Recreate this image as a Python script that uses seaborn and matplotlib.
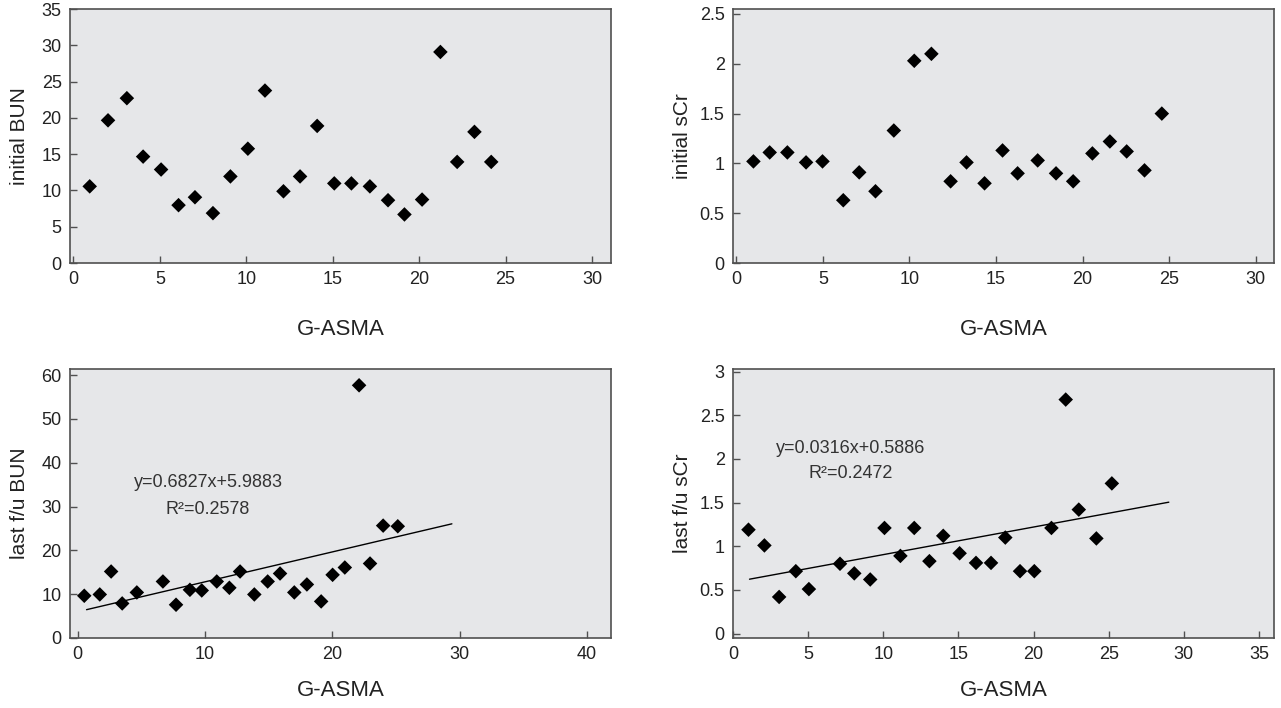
import numpy as np
import pandas as pd
import matplotlib
matplotlib.use("Agg")
import matplotlib.pyplot as plt
import seaborn as sns
from matplotlib.ticker import FuncFormatter

# ---------------- data ----------------
x_label = "G-ASMA"

init_bun_x = [0.94, 2.0, 3.09, 4.03, 5.07, 6.08, 7.03, 8.07, 9.08, 10.09, 11.08, 12.15,
              13.11, 14.1, 15.09, 16.08, 17.15, 18.2, 19.15, 20.17, 21.23, 22.2, 23.2, 24.17]
init_bun_y = [10.56, 19.66, 22.71, 14.66, 12.88, 7.97, 9.06, 6.87, 11.93, 15.75, 23.76, 9.88,
              11.93, 18.89, 10.97, 10.97, 10.56, 8.65, 6.69, 8.74, 29.08, 13.93, 18.07, 13.93]

init_scr_x = [0.99, 1.93, 2.95, 4.03, 4.98, 6.18, 7.10, 8.04, 9.10, 10.28, 11.27, 12.38,
              13.30, 14.34, 15.38, 16.25, 17.41, 18.47, 19.46, 20.57, 21.58, 22.55, 23.58, 24.58]
init_scr_y = [1.02, 1.11, 1.11, 1.01, 1.02, 0.63, 0.91, 0.72, 1.33, 2.03, 2.10, 0.82,
              1.01, 0.80, 1.13, 0.90, 1.03, 0.90, 0.82, 1.10, 1.22, 1.12, 0.93, 1.50]

last_bun_x = [0.52, 1.74, 2.63, 3.50, 4.65, 6.70, 7.73, 8.82, 9.75, 10.93, 11.92, 12.76,
              13.88, 14.93, 15.90, 17.02, 18.01, 19.13, 20.03, 20.99, 22.11, 22.97, 24.0, 25.15]
last_bun_y = [9.64, 9.94, 15.18, 7.89, 10.4, 12.9, 7.59, 11.0, 10.85, 12.9, 11.46, 15.18,
              9.94, 12.9, 14.72, 10.4, 12.22, 8.35, 14.42, 16.09, 57.68, 17.0, 25.65, 25.5]

last_scr_x = [1.03, 2.09, 3.07, 4.18, 5.05, 7.12, 8.07, 9.13, 10.08, 11.14, 12.06, 13.07,
              13.99, 15.08, 16.17, 17.17, 18.12, 19.1, 20.05, 21.19, 22.14, 23.01, 24.18, 25.21]
last_scr_y = [1.19, 1.01, 0.42, 0.715, 0.51, 0.80, 0.69, 0.62, 1.21, 0.89, 1.21, 0.83,
              1.12, 0.92, 0.81, 0.81, 1.10, 0.715, 0.715, 1.21, 2.68, 1.42, 1.09, 1.72]

bun_fit_slope, bun_fit_intercept = 0.6827, 5.9883
bun_fit_xrange = [0.7, 29.4]
bun_eq_lines = ["y=0.6827x+5.9883", "R\u00b2=0.2578"]

scr_fit_slope, scr_fit_intercept = 0.0316, 0.5886
scr_fit_xrange = [1.1, 29.0]
scr_eq_lines = ["y=0.0316x+0.5886", "R\u00b2=0.2472"]

y_labels = ["initial BUN", "initial sCr", "last f/u BUN", "last f/u sCr"]

# ---------------- style ----------------
sns.set_style("white")
plt.rcParams['font.family'] = ['Liberation Sans', 'DejaVu Sans']

W, H = 1281, 708
fig = plt.figure(figsize=(W / 100, H / 100), dpi=100)
fig.patch.set_facecolor("white")

FACE = "#e6e7e9"
SPINE = "#505050"
TEXT = "#222222"


def make_axes(l, t, r, b):
    return fig.add_axes([l / W, 1 - b / H, (r - l) / W, (b - t) / H])


panels = [
    dict(box=(70, 9, 611, 263), x=init_bun_x, y=init_bun_y, ylabel=y_labels[0],
         xlim=(-0.2, 31.1), ylim=(0, 35), xt=np.arange(0, 31, 5), yt=np.arange(0, 36, 5),
         fit=None, xlab_y=-0.22),
    dict(box=(733, 9, 1274, 263), x=init_scr_x, y=init_scr_y, ylabel=y_labels[1],
         xlim=(-0.19, 31.06), ylim=(0, 2.55), xt=np.arange(0, 31, 5), yt=np.arange(0, 2.51, 0.5),
         fit=None, xlab_y=-0.22),
    dict(box=(70, 369, 611, 638), x=last_bun_x, y=last_bun_y, ylabel=y_labels[2],
         xlim=(-0.6, 41.9), ylim=(0, 61.4), xt=np.arange(0, 41, 10), yt=np.arange(0, 61, 10),
         fit=(bun_fit_slope, bun_fit_intercept, bun_fit_xrange, bun_eq_lines,
              (10.24, 35.4), (10.24, 29.4)), xlab_y=-0.155),
    dict(box=(733, 369, 1274, 638), x=last_scr_x, y=last_scr_y, ylabel=y_labels[3],
         xlim=(0, 36.0), ylim=(-0.05, 3.03), xt=np.arange(0, 36, 5), yt=np.arange(0, 3.01, 0.5),
         fit=(scr_fit_slope, scr_fit_intercept, scr_fit_xrange, scr_eq_lines,
              (7.85, 2.12), (7.85, 1.835)), xlab_y=-0.155),
]

fmt = FuncFormatter(lambda v, p: f"{v:g}")

for p in panels:
    ax = make_axes(*p["box"])
    ax.set_facecolor(FACE)
    df = pd.DataFrame({"x": p["x"], "y": p["y"]})
    sns.scatterplot(data=df, x="x", y="y", ax=ax, marker="D", s=55, color="black",
                    edgecolor="none", linewidth=0, zorder=3)
    if p["fit"] is not None:
        slope, icpt, xr, eq, pos1, pos2 = p["fit"]
        xs = np.array(xr, dtype=float)
        sns.lineplot(x=xs, y=slope * xs + icpt, ax=ax, color="black", linewidth=1.0,
                     zorder=2)
        ax.text(pos1[0], pos1[1], eq[0], ha="center", va="center", fontsize=13, color="#333333")
        ax.text(pos2[0], pos2[1], eq[1], ha="center", va="center", fontsize=13, color="#333333")

    ax.set_xlim(*p["xlim"])
    ax.set_ylim(*p["ylim"])
    ax.set_xticks(p["xt"])
    ax.set_yticks(p["yt"])
    ax.xaxis.set_major_formatter(fmt)
    ax.yaxis.set_major_formatter(fmt)
    ax.tick_params(axis="both", which="major", direction="in", length=5, width=1.0,
                   color=SPINE, labelcolor=TEXT, labelsize=13, left=True, bottom=True,
                   top=False, right=False)
    ax.tick_params(axis="y", pad=6)
    ax.tick_params(axis="x", pad=6)
    for s in ax.spines.values():
        s.set_visible(True)
        s.set_color(SPINE)
        s.set_linewidth(1.2)

    ax.set_xlabel(x_label, fontsize=16, color=TEXT)
    ax.set_ylabel(p["ylabel"], fontsize=15, color=TEXT)
    ax.xaxis.set_label_coords(0.5, p["xlab_y"])
    ax.xaxis.label.set_va("top")
    ax.yaxis.set_label_coords(-0.075, 0.5)
    ax.grid(False)

fig.savefig("out.png", dpi=100, facecolor="white")
